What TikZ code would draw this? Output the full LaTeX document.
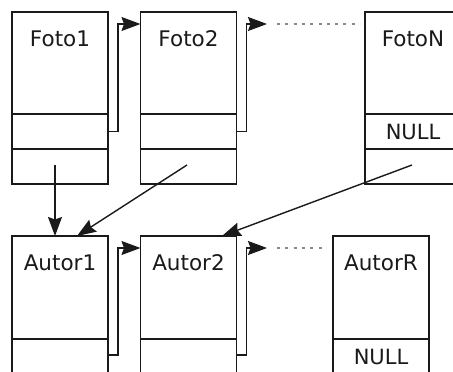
\documentclass[tikz,border=0pt]{standalone}
\usepackage{fontspec}
\setmainfont{DejaVu Sans}
\usetikzlibrary{arrows.meta}
\definecolor{ink}{HTML}{1A1A1A}
\definecolor{dotc}{HTML}{8A8A8A}
\tikzset{
  comp/.style={draw=ink, line width=1.5pt, minimum width=96pt, inner sep=0pt, outer sep=0pt, text=ink, font=\fontsize{21}{24}\selectfont},
  tall/.style={comp, minimum height=102pt},
  short/.style={comp, minimum height=35pt},
  lbl/.style={text=ink, inner sep=0pt, font=\fontsize{21.5}{24}\selectfont},
  arr/.style={draw=ink, line width=1.4pt, -{Stealth[length=19pt,width=14pt,inset=2.5pt]}},
  link/.style={arr},
  dots/.style={draw=dotc, line width=1.6pt, dash pattern=on 3pt off 5.3pt}
}
\begin{document}
\begin{tikzpicture}[x=1pt,y=-1pt]
\clip (0,0) rectangle (453,372);
\fill[white] (0,0) rectangle (453,372);
% Foto row
\node[tall]  (f1a) at (60,63) {};
\node[short] (f1b) at (60,131.5) {};
\node[short] (f1c) at (60,166.5) {};
\node[tall]  (f2a) at (188.5,63) {};
\node[short] (f2b) at (188.5,131.5) {};
\node[short] (f2c) at (188.5,166.5) {};
\node[tall]  (fNa) at (413,63) {};
\node[short] (fNb) at (413,131.5) {NULL};
\node[short] (fNc) at (413,166.5) {};
\node[lbl] (t1) at ([yshift=-26.5pt]f1a.north) {Foto1};
\node[lbl] (t2) at ([yshift=-26.5pt]f2a.north) {Foto2};
\node[lbl] (tN) at ([yshift=-26.5pt]fNa.north) {FotoN};
% Autor row
\node[comp, minimum height=103pt] (a1a) at (60,287.5) {};
\node[short] (a1b) at (60,356.5) {};
\node[comp, minimum height=103pt] (a2a) at (188.5,287.5) {};
\node[short] (a2b) at (188.5,356.5) {};
\node[comp, minimum height=103pt] (aRa) at (381,287.5) {};
\node[short] (aRb) at (381,356.5) {NULL};
\node[lbl] (u1) at ([yshift=-27pt]a1a.north) {Autor1};
\node[lbl] (u2) at ([yshift=-27pt]a2a.north) {Autor2};
\node[lbl] (uR) at ([yshift=-27pt]aRa.north) {AutorR};
% next links
\draw[link] (f1b.east) -- ++(10,0) |- ([yshift=-12pt]f2a.north west);
\coordinate (p2) at (267,24);
\draw[link] (f2b.east) -- ++(10,0) |- (p2);
\coordinate (d1) at (277,24);
\coordinate (d2) at (360,24);
\draw[dots] (d1) -- (d2);
\draw[link] (a1b.east |- 0,355) -- ++(10,0) |- ([yshift=-12pt]a2a.north west);
\coordinate (q2) at (267,248);
\draw[link] (a2b.east |- 0,355) -- ++(10,0) |- (q2);
\coordinate (e1) at (277,248);
\coordinate (e2) at (322,248);
\draw[dots] (e1) -- (e2);
% author pointers
\coordinate (s1) at (55,165);
\coordinate (s2) at (187,165);
\coordinate (sN) at (412,165);
\draw[arr] (s1) -- (s1 |- a1a.north);
\draw[arr] (s2) -- ([xshift=17pt]a1a.north);
\draw[arr] (sN) -- ([xshift=33.5pt]a2a.north);
\end{tikzpicture}
\end{document}
